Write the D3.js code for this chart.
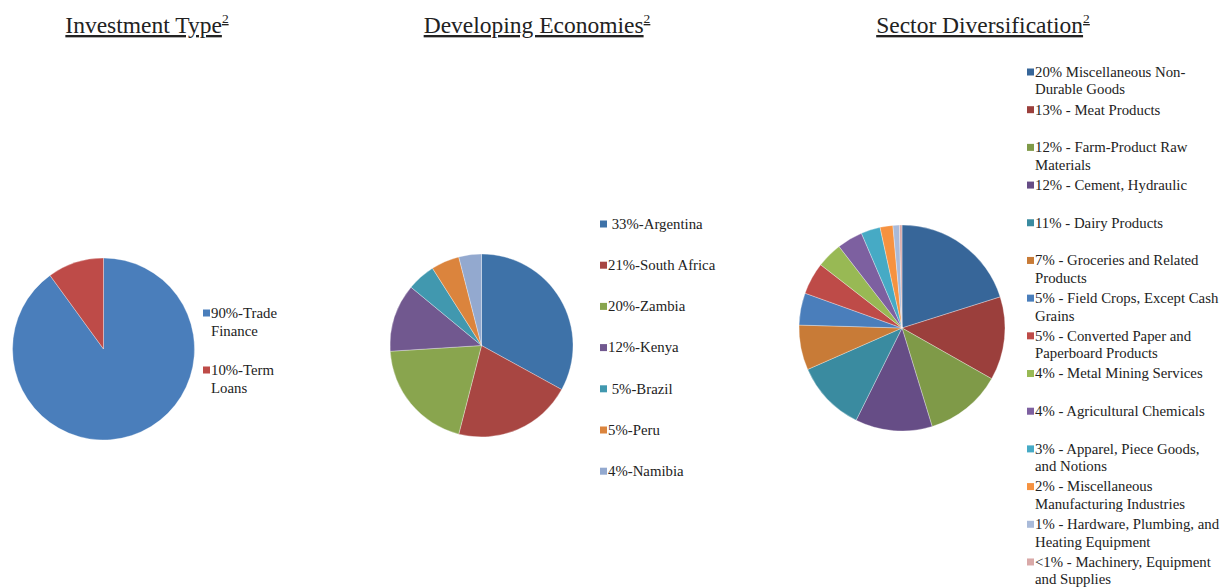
<!DOCTYPE html>
<html>
<head>
<meta charset="utf-8">
<script src="https://cdn.jsdelivr.net/npm/d3@7"></script>
<style>
  html, body { margin: 0; padding: 0; background: #fff; }
  svg text { font-family: "Liberation Serif", "Times New Roman", serif; fill: #222; white-space: pre; }
</style>
</head>
<body>
<svg id="chart" width="1221" height="588"></svg>
<script>
// Investment type split
const investLabels = [["90%-Trade", "Finance"], ["10%-Term", "Loans"]];
const investValues = [90, 10];
const investColors = ["#4a7ebb", "#be4b48"];

// Developing economies split
const econLabels = [[" 33%-Argentina"], ["21%-South Africa"], ["20%-Zambia"], ["12%-Kenya"], [" 5%-Brazil"], ["5%-Peru"], ["4%-Namibia"]];
const econValues = [33, 21, 20, 12, 5, 5, 4];
const econColors = ["#3e72a8", "#a84642", "#89a54e", "#71588f", "#4198af", "#db843d", "#93a9cf"];

// Sector diversification split
const sectorLabels = [
  ["20% Miscellaneous Non-", "Durable Goods"],
  ["13% - Meat Products"],
  ["12% - Farm-Product Raw", "Materials"],
  ["12% - Cement, Hydraulic"],
  ["11% - Dairy Products"],
  ["7% - Groceries and Related", "Products"],
  ["5% - Field Crops, Except Cash", "Grains"],
  ["5% - Converted Paper and", "Paperboard Products"],
  ["4% - Metal Mining Services"],
  ["4% - Agricultural Chemicals"],
  ["3% - Apparel, Piece Goods,", "and Notions"],
  ["2% - Miscellaneous", "Manufacturing Industries"],
  ["1% - Hardware, Plumbing, and", "Heating Equipment"],
  ["<1% - Machinery, Equipment", "and Supplies"]
];
const sectorValues = [20, 13, 12, 12, 11, 7, 5, 5, 4, 4, 3, 2, 1, 0.4];
const sectorColors = ["#376699", "#9b3f3c", "#7f9a48", "#664d86", "#3a8ba0", "#c87b37",
                      "#4a7ebb", "#be4b48", "#98b954", "#7d60a0", "#46aac5", "#f69240",
                      "#a9bad9", "#d9a9a8"];

const titles = ["Investment Type", "Developing Economies", "Sector Diversification"];

const svg = d3.select("#chart");

function drawTitle(text, cx, y) {
  const t = svg.append("text")
    .attr("x", cx).attr("y", y)
    .attr("text-anchor", "middle")
    .style("font-size", "23.5px")
    .attr("text-decoration", "underline");
  t.append("tspan").text(text);
  t.append("tspan").attr("dy", -10).style("font-size", "13.5px").text("2");
}

function drawPie(values, colors, cx, cy, r) {
  const pie = d3.pie().sort(null).value(d => d);
  const arc = d3.arc().innerRadius(0).outerRadius(r);
  svg.append("g").attr("transform", `translate(${cx},${cy})`)
    .selectAll("path").data(pie(values)).join("path")
    .attr("d", arc)
    .attr("fill", (d, i) => colors[i])
    .attr("stroke", "rgba(255,255,255,0.45)")
    .attr("stroke-width", 0.7);
}

function drawLegend(labels, colors, x, y0, step, lineH) {
  const g = svg.append("g");
  labels.forEach((lines, i) => {
    const y = y0 + i * step;
    g.append("rect").attr("x", x).attr("y", y - 3.5).attr("width", 7).attr("height", 7).attr("fill", colors[i]);
    const t = g.append("text").attr("x", x + 8).attr("y", y).style("font-size", "14.8px");
    lines.forEach((ln, j) => {
      t.append("tspan").attr("x", x + 8).attr("y", y + j * lineH).attr("dy", "0.33em").text(ln);
    });
  });
}

// Titles
drawTitle(titles[0], 147, 33);
drawTitle(titles[1], 537, 33);
drawTitle(titles[2], 983, 33);

// Pies
drawPie(investValues, investColors, 103.5, 349, 91);
drawPie(econValues, econColors, 481.5, 345.5, 91.5);
drawPie(sectorValues, sectorColors, 902, 328, 103);

// Legends
drawLegend(investLabels, investColors, 203, 313, 57, 18);
drawLegend(econLabels, econColors, 600, 224, 41.2, 18);
drawLegend(sectorLabels, sectorColors, 1027, 72, 37.69, 17.6);
</script>
</body>
</html>
